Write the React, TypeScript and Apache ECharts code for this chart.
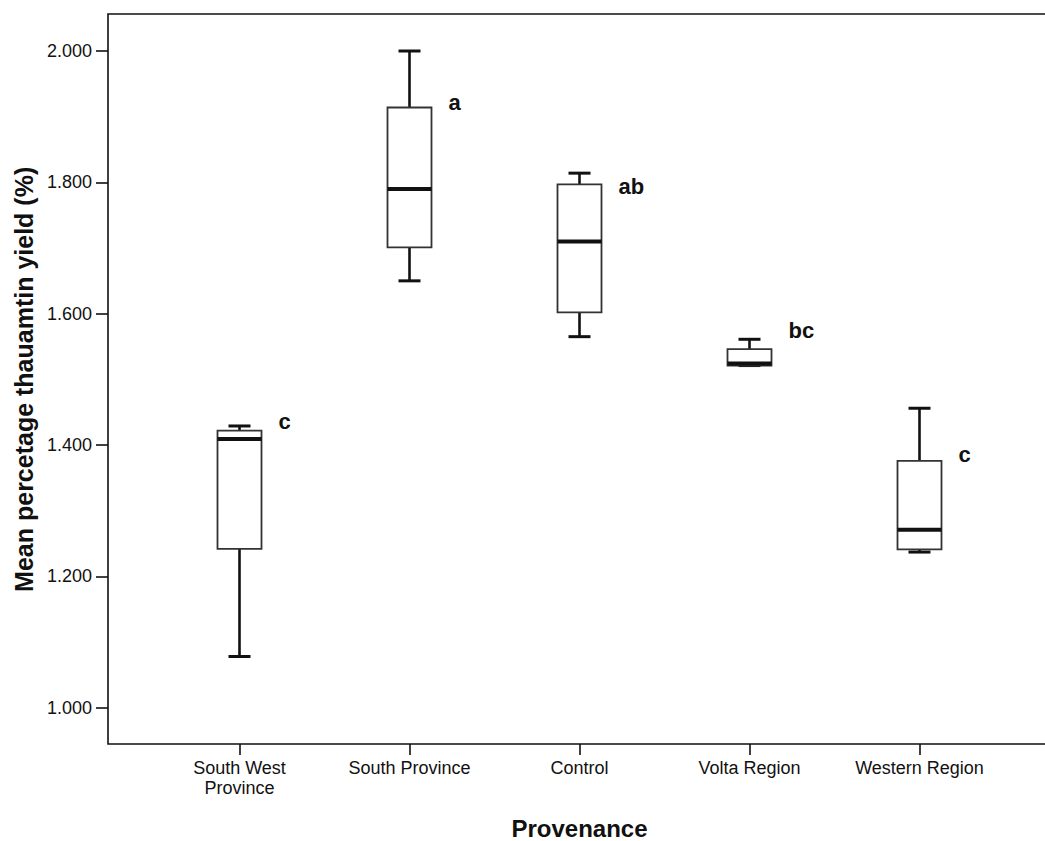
import React, { useEffect, useRef } from "react";
import * as echarts from "echarts";

const categories = ["South West\nProvince", "South Province", "Control", "Volta Region", "Western Region"];
const mins = [1.078, 1.65, 1.565, 1.521, 1.237];
const q1s = [1.242, 1.701, 1.602, 1.521, 1.241];
const medians = [1.409, 1.79, 1.71, 1.524, 1.271];
const q3s = [1.422, 1.914, 1.797, 1.546, 1.376];
const maxs = [1.429, 2.0, 1.814, 1.561, 1.456];
const letters = ["c", "a", "ab", "bc", "c"];
const letterY = [1.436, 1.922, 1.794, 1.574, 1.386];
const yTicks = { min: 1.0, max: 2.0, interval: 0.2 };

const FONT = '"Liberation Sans", Arial, sans-serif';

export default function App() {
  const ref = useRef<HTMLDivElement>(null);
  useEffect(() => {
    if (!ref.current) return;
    const chart = echarts.init(ref.current, undefined, { renderer: "svg" });
    const boxData = categories.map((_, i) => [i, mins[i], q1s[i], medians[i], q3s[i], maxs[i]]);
    const letterData = categories.map((_, i) => [i, letterY[i]]);
    chart.setOption({
      animation: false,
      backgroundColor: "#fff",
      grid: [
        { left: 154.5, right: 40.5, top: 51, bottom: 133.3, containLabel: false, outerBoundsMode: "none" },
        {
          left: 108, right: -40, top: 14, bottom: 97, show: true, outerBoundsMode: "none",
          borderColor: "#111", borderWidth: 1.6, backgroundColor: "transparent",
        },
      ],
      xAxis: [
        {
          type: "category",
          gridIndex: 0,
          data: categories,
          offset: 36.3,
          axisLine: { show: false },
          axisTick: { show: true, alignWithLabel: true, length: 11, lineStyle: { color: "#111", width: 1.6 } },
          axisLabel: { color: "#111", fontSize: 18, fontFamily: FONT, margin: 14, lineHeight: 20, interval: 0 },
          splitLine: { show: false },
          name: "Provenance",
          nameLocation: "middle",
          nameGap: 72,
          nameTextStyle: { color: "#111", fontSize: 24, fontWeight: "bold", fontFamily: FONT, verticalAlign: "top" },
        },
        { type: "value", gridIndex: 1, show: false },
      ],
      yAxis: [
        {
          type: "value",
          gridIndex: 0,
          min: yTicks.min,
          max: yTicks.max,
          interval: yTicks.interval,
          offset: 46.5,
          axisLine: { show: false },
          axisTick: { show: true, length: 12, lineStyle: { color: "#111", width: 1.6 } },
          axisLabel: {
            color: "#111", fontSize: 18, fontFamily: FONT, margin: 16,
            formatter: (v: number) => v.toFixed(3),
          },
          splitLine: { show: false },
          name: "Mean percetage thauamtin yield (%)",
          nameLocation: "middle",
          nameGap: 68,
          nameRotate: 90,
          nameTextStyle: { color: "#111", fontSize: 25, fontWeight: "bold", fontFamily: FONT },
        },
        { type: "value", gridIndex: 1, show: false },
      ],
      series: [
        {
          type: "custom",
          xAxisIndex: 0,
          yAxisIndex: 0,
          data: boxData,
          encode: { x: 0, y: [1, 2, 3, 4, 5] },
          renderItem: (params: any, api: any) => {
            const idx = api.value(0);
            const pMin = api.coord([idx, api.value(1)]);
            const pQ1 = api.coord([idx, api.value(2)]);
            const pMed = api.coord([idx, api.value(3)]);
            const pQ3 = api.coord([idx, api.value(4)]);
            const pMax = api.coord([idx, api.value(5)]);
            const cx = pMin[0];
            const half = 22;
            const cap = 11;
            const wStyle = { stroke: "#111", lineWidth: 2.6 };
            const children: any[] = [];
            if (pQ1[1] - pMin[1] < -0.5) {
              children.push({ type: "line", shape: { x1: cx, y1: pQ1[1], x2: cx, y2: pMin[1] }, style: wStyle });
            }
            if (pMax[1] - pQ3[1] < -0.5) {
              children.push({ type: "line", shape: { x1: cx, y1: pQ3[1], x2: cx, y2: pMax[1] }, style: wStyle });
            }
            children.push({ type: "line", shape: { x1: cx - cap, y1: pMax[1], x2: cx + cap, y2: pMax[1] }, style: { stroke: "#111", lineWidth: 3 } });
            children.push({ type: "line", shape: { x1: cx - cap, y1: pMin[1], x2: cx + cap, y2: pMin[1] }, style: { stroke: "#111", lineWidth: 3 } });
            children.push({
              type: "rect",
              shape: { x: cx - half, y: pQ3[1], width: half * 2, height: pQ1[1] - pQ3[1] },
              style: { fill: "#fff", stroke: "#333", lineWidth: 1.8 },
            });
            children.push({ type: "line", shape: { x1: cx - half, y1: pMed[1], x2: cx + half, y2: pMed[1] }, style: { stroke: "#111", lineWidth: 4 } });
            return { type: "group", children };
          },
        },
        {
          type: "custom",
          xAxisIndex: 0,
          yAxisIndex: 0,
          data: letterData,
          encode: { x: 0, y: 1 },
          renderItem: (params: any, api: any) => {
            const p = api.coord([api.value(0), api.value(1)]);
            return {
              type: "text",
              x: p[0] + 39,
              y: p[1],
              style: {
                text: letters[params.dataIndex],
                fill: "#111",
                fontSize: 22,
                fontWeight: "bold",
                fontFamily: FONT,
                align: "left",
                verticalAlign: "middle",
              },
            };
          },
        },
      ],
    });
    return () => chart.dispose();
  }, []);
  return (
    <div
      ref={ref}
      style={{ position: "absolute", left: 0, top: 0, width: 1045, height: 841, background: "#fff" }}
    />
  );
}
